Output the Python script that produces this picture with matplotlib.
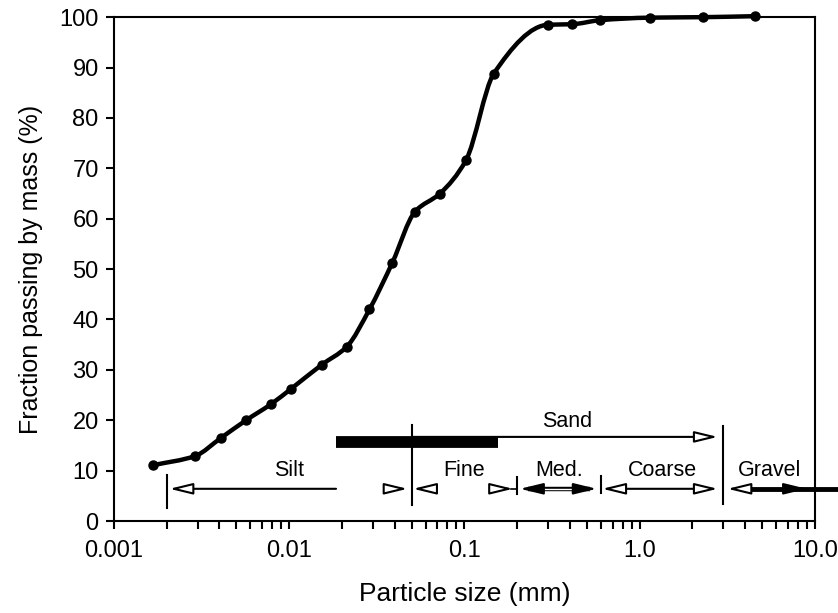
import numpy as np
import matplotlib
matplotlib.use('Agg')
from matplotlib import pyplot as plt
from matplotlib.path import Path
from matplotlib.patches import PathPatch

# grading curve
sizeMm = [0.00168, 0.0029, 0.00408, 0.00567, 0.00787, 0.0103, 0.0153, 0.0213,
          0.0287, 0.0388, 0.0522, 0.0725, 0.102, 0.147, 0.301, 0.412, 0.593,
          1.14, 2.31, 4.56]
passing = [11.1, 12.9, 16.5, 20.0, 23.2, 26.3, 31.0, 34.6,
           42.0, 51.3, 61.4, 65.0, 71.6, 88.8, 98.5, 98.6, 99.4,
           99.9, 100.0, 100.2]

# size classes (mm)
zoneNames = ['Silt', 'Fine', 'Med.', 'Coarse', 'Gravel']
zoneLimits = [0.002, 0.05, 0.2, 0.6, 3.0, 13.5]
sandLimits = [0.05, 3.0]

xTicks = [0.001, 0.01, 0.1, 1.0, 10.0]
xTickLabels = ['0.001', '0.01', '0.1', '1.0', '10.0']
yTicks = list(range(0, 101, 10))

plt.rcParams['font.family'] = ['Liberation Sans', 'DejaVu Sans']

HEAD = '-|>,head_length=0.7,head_width=0.17'


def smooth_path(x, y):
    '''monotone cubic (Fritsch-Carlson) in log10(x), returned as bezier path'''
    lx = np.log10(np.asarray(x, float))
    y = np.asarray(y, float)
    h = np.diff(lx)
    d = np.diff(y) / h
    m = np.zeros_like(y)
    m[0], m[-1] = d[0], d[-1]
    for i in range(1, len(y) - 1):
        if d[i - 1] * d[i] <= 0:
            m[i] = 0
        else:
            w1 = 2 * h[i] + h[i - 1]
            w2 = h[i] + 2 * h[i - 1]
            m[i] = (w1 + w2) / (w1 / d[i - 1] + w2 / d[i])
    verts = [(10**lx[0], y[0])]
    codes = [Path.MOVETO]
    for i in range(len(h)):
        c1 = (lx[i] + h[i] / 3, y[i] + m[i] * h[i] / 3)
        c2 = (lx[i + 1] - h[i] / 3, y[i + 1] - m[i + 1] * h[i] / 3)
        verts += [(10**c1[0], c1[1]), (10**c2[0], c2[1]), (10**lx[i + 1], y[i + 1])]
        codes += [Path.CURVE4] * 3
    return Path(verts, codes)


def head(ax, xHead, xTail, y, fc='white', shrink=2, lw=1.5):
    ax.annotate('', xy=(xHead, y), xytext=(xTail, y),
                arrowprops=dict(arrowstyle=HEAD, mutation_scale=20, fc=fc,
                                ec='black', lw=lw, shrinkA=0, shrinkB=shrink))


def main():
    fig = plt.figure(figsize=(8.38, 6.13), dpi=100)
    ax = fig.add_axes([0.136, 0.150, 0.8365, 0.822])
    ax.set_xscale('log')
    ax.set_xlim(0.001, 10)
    ax.set_ylim(0, 100)

    patch = PathPatch(smooth_path(sizeMm, passing), fill=False, lw=3.2,
                      ec='black', capstyle='round', clip_on=False, zorder=4)
    ax.add_patch(patch)
    ax.plot(sizeMm, passing, 'o', color='black', ms=6.5, clip_on=False, zorder=5)

    yArr = 6.4
    lim = zoneLimits
    # boundary marks
    for xb, y0, y1 in [(lim[0], 2.6, 9.1), (lim[1], 3.2, 19.0), (lim[2], 5.4, 8.7),
                       (lim[3], 5.6, 8.9), (lim[4], 3.4, 18.8)]:
        ax.plot([xb, xb], [y0, y1], color='black', lw=1.5)

    # silt
    head(ax, lim[0], 0.0185, yArr, shrink=2)
    head(ax, lim[1], 0.0366, yArr, shrink=3)
    # fine sand
    head(ax, lim[1], 0.0612, yArr, shrink=1)
    ax.plot([0.185, lim[2]], [yArr, yArr], color='black', lw=1.2)
    head(ax, lim[2], 0.149, yArr, shrink=3)
    # medium sand (double line)
    ax.plot([0.23, 0.52], [yArr, yArr], color='black', lw=3.2, solid_capstyle='butt')
    ax.plot([0.23, 0.52], [yArr, yArr], color='white', lw=1.0, solid_capstyle='butt')
    head(ax, lim[2], 0.245, yArr, fc='black', shrink=2)
    head(ax, lim[3], 0.49, yArr, fc='black', shrink=3)
    # coarse sand
    ax.annotate('', xy=(lim[3], yArr), xytext=(lim[4], yArr),
                arrowprops=dict(arrowstyle='<|-|>,head_length=0.7,head_width=0.17',
                                mutation_scale=20, fc='white', ec='black', lw=1.5,
                                shrinkA=4, shrinkB=1))
    # gravel
    ax.plot([3.9, lim[5]], [yArr, yArr], color='black', lw=3.5,
            solid_capstyle='butt', clip_on=False)
    head(ax, lim[4], 3.99, yArr, shrink=3)
    head(ax, 9.0, 7.2, yArr, fc='black', shrink=0)

    # sand
    ax.plot([0.0185, 0.155], [15.7, 15.7], color='black', lw=8.5, solid_capstyle='butt')
    ax.annotate('', xy=(sandLimits[1], 16.7), xytext=(sandLimits[0], 16.7),
                arrowprops=dict(arrowstyle=HEAD, mutation_scale=20, fc='white',
                                ec='black', lw=1.5, shrinkA=0, shrinkB=4))
    ax.text(np.sqrt(sandLimits[0] * sandLimits[1]), 19.8, 'Sand', ha='center',
            va='center', fontsize=15.5)

    for name, a, b in zip(zoneNames, zoneLimits[:-1], zoneLimits[1:]):
        xc = np.sqrt(a * min(b, 10.0))
        ax.text(xc, 10.0, name, ha='center', va='center', fontsize=15.5)

    ax.set_xticks(xTicks)
    ax.set_xticklabels(xTickLabels)
    ax.set_yticks(yTicks)
    ax.tick_params(axis='both', which='both', direction='out', length=6, width=1.5,
                   labelsize=17, colors='black')
    ax.tick_params(axis='x', which='both', pad=8)
    ax.tick_params(axis='y', pad=5)
    for s in ax.spines.values():
        s.set_linewidth(1.5)

    ax.set_xlabel('Particle size (mm)', fontsize=19, labelpad=14)
    ax.set_ylabel('Fraction passing by mass (%)', fontsize=18, labelpad=12)

    fig.savefig('out.png', dpi=100)


if __name__ == '__main__':
    main()
